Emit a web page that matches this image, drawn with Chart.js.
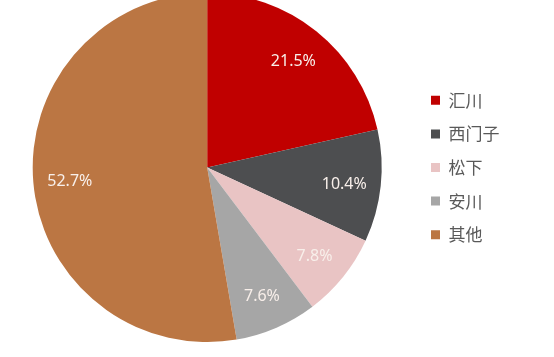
<!DOCTYPE html>
<html>
<head>
<meta charset="utf-8">
<script src="https://cdn.jsdelivr.net/npm/chart.js@4.4.1/dist/chart.umd.min.js"></script>
<style>
  html, body { margin: 0; padding: 0; background: #ffffff; overflow: hidden; }
  #wrap { position: absolute; left: 0; top: -7px; width: 554px; height: 349px; }
</style>
</head>
<body>
<div id="wrap"><canvas id="c"></canvas></div>
<script>
const categories = ['汇川', '西门子', '松下', '安川', '其他'];
const shares = [21.5, 10.4, 7.8, 7.6, 52.7];
const sliceColors = ['#C00000', '#4D4E50', '#E9C4C4', '#A6A6A6', '#BB7643'];

const sliceLabels = {
  id: 'sliceLabels',
  afterDatasetsDraw(chart) {
    const ctx = chart.ctx;
    const meta = chart.getDatasetMeta(0);
    ctx.save();
    ctx.font = '16px "Noto Sans", "Open Sans", sans-serif';
    ctx.fillStyle = '#F8EFEA';
    ctx.textAlign = 'center';
    ctx.textBaseline = 'middle';
    meta.data.forEach((arc, i) => {
      const p = arc.getProps(['x', 'y', 'startAngle', 'endAngle', 'outerRadius'], true);
      const mid = (p.startAngle + p.endAngle) / 2;
      const r = p.outerRadius * 0.79;
      ctx.fillText(shares[i].toFixed(1) + '%', p.x + Math.cos(mid) * r, p.y + Math.sin(mid) * r + 2);
    });
    ctx.restore();
  }
};

new Chart(document.getElementById('c'), {
  type: 'pie',
  data: {
    labels: categories,
    datasets: [{
      data: shares,
      backgroundColor: sliceColors,
      borderWidth: 0
    }]
  },
  options: {
    responsive: true,
    maintainAspectRatio: false,
    animation: false,
    layout: { padding: { right: 44.5 } },
    plugins: {
      tooltip: { enabled: false },
      legend: {
        position: 'right',
        align: 'center',
        labels: {
          boxWidth: 9,
          boxHeight: 9,
          padding: 16.6,
          color: '#595959',
          font: { size: 17, family: '"Noto Sans CJK SC", sans-serif' }
        }
      }
    }
  },
  plugins: [sliceLabels]
});
</script>
</body>
</html>
